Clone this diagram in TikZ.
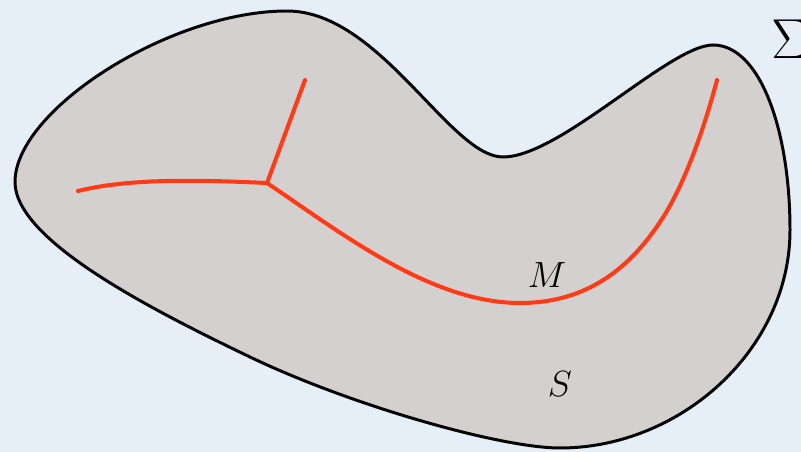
\documentclass[tikz,border=0pt]{standalone}
\usepackage{amsmath,amssymb}
\usepackage{xcolor}
\usepackage{tikz}
\usetikzlibrary{calc}
\definecolor{Paper}{HTML}{E6EEF8}
\definecolor{Ink}{HTML}{050505}
\definecolor{Surf}{HTML}{D4D0CF}
\definecolor{Curve}{HTML}{FF3B17}
\tikzset{
  region/.style={draw=Ink,fill=Surf,line width=1.7pt},
  branch/.style={draw=Curve,line width=2.3pt,line cap=round,line join=round},
  label/.style={font=\huge,inner sep=0pt},
  biglabel/.style={font=\Huge,scale=1.29,inner sep=0pt,anchor=north west}
}

\begin{document}
\begin{tikzpicture}[x=0.02cm,y=-0.02cm]
  \fill[Paper] (0,0) rectangle (801,452);
  \useasboundingbox (0,0) rectangle (801,452);
  % the surface S
  \draw[region] (15,182)
    .. controls (15,110) and (170,11) .. (287,11)
    .. controls (380,11) and (450,157) .. (503,157)
    .. controls (560,157) and (670,45) .. (713,45)
    .. controls (760,45) and (790,130) .. (790,230)
    .. controls (790,350) and (680,448) .. (560,448)
    .. controls (500,448) and (350,405) .. (250,357)
    .. controls (150,309) and (15,240) .. cycle;
  % the curve M
  \coordinate (J) at (267,183);
  \coordinate (tip) at (305,80);
  \coordinate (low) at (520,303);
  \coordinate (end) at (717,80);
  \draw[branch] (78,191) .. controls (130,178) and (200,180) .. (J);
  \draw[branch] (J) -- (tip);
  \draw[branch] (J) .. controls (340,232) and (430,303) .. (low)
    .. controls (580,303) and (625,275) .. (660,222)
    .. controls (685,185) and (705,125) .. (end);
  \node[label] (m) at (547,275) {$M$};
  \node[label] (s) at (560,384) {$S$};
  \node[biglabel] (sigma) at (771,20) {$\Sigma$};
\end{tikzpicture}
\end{document}
